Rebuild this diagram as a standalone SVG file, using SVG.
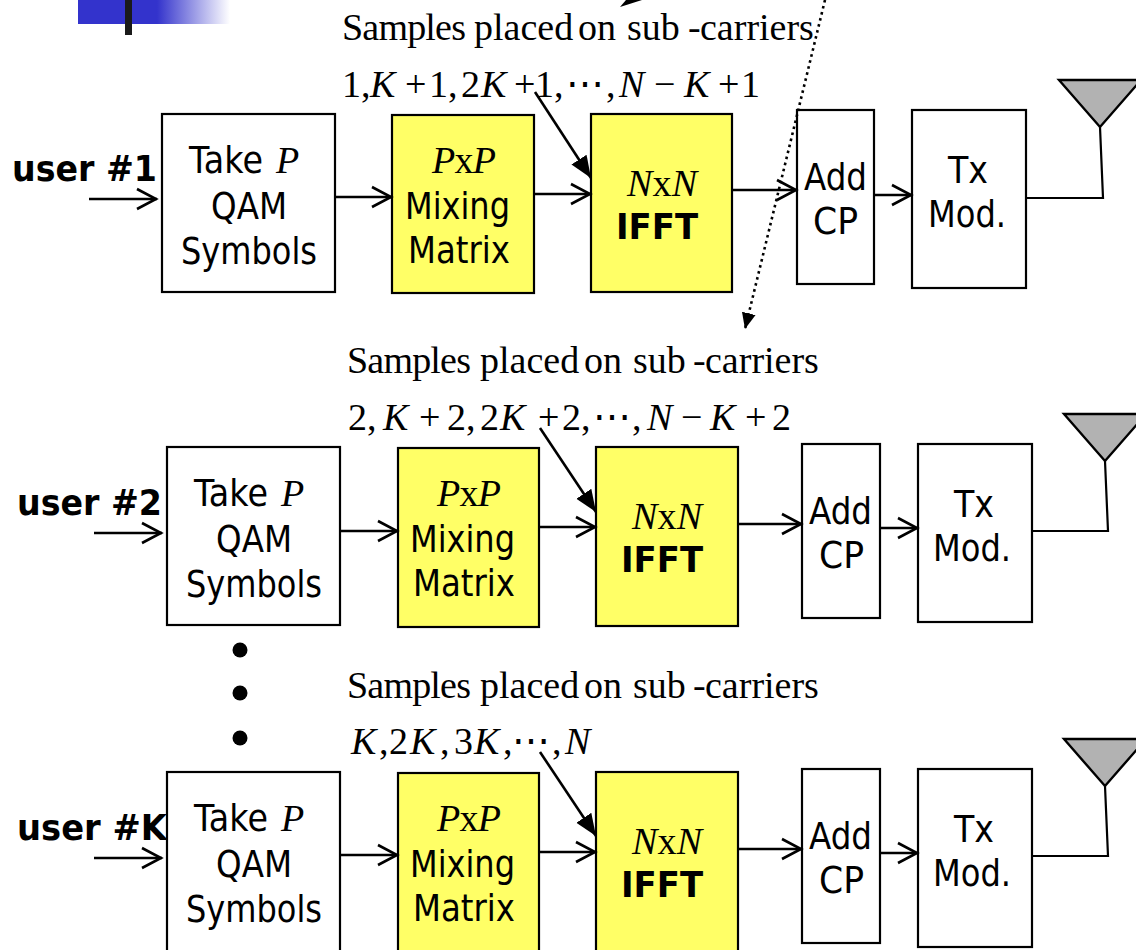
<svg xmlns="http://www.w3.org/2000/svg" width="1136" height="950" viewBox="0 0 1136 950">
<style>
.box{fill:#fff;stroke:#000;stroke-width:2.2}
.yel{fill:#ffff66;stroke:#000;stroke-width:2.2}
.s{font-family:"DejaVu Sans","Liberation Sans",sans-serif;font-size:38px;fill:#000}
.b{font-family:"DejaVu Sans","Liberation Sans",sans-serif;font-size:36px;font-weight:700;fill:#000}
.t{font-family:"Liberation Serif","DejaVu Serif",serif;font-size:38px;fill:#000}
.i{font-style:italic}
.ls{letter-spacing:-0.8px}
.a{fill:none;stroke:#000;stroke-width:2.6;marker-end:url(#open)}
.f{fill:none;stroke:#000;stroke-width:2.6;marker-end:url(#solid)}
.w{fill:none;stroke:#000;stroke-width:2.2}
.ant{fill:#b2b2b2;stroke:#000;stroke-width:2.4}
</style>
<defs>
<linearGradient id="fade" x1="0" x2="1" y1="0" y2="0"><stop offset="0.52" stop-color="#3333cc"/><stop offset="1" stop-color="#fff"/></linearGradient>
<marker id="open" markerUnits="userSpaceOnUse" markerWidth="26" markerHeight="26" refX="22" refY="13" orient="auto"><path d="M2,3 L21,13 L2,23" fill="none" stroke="#000" stroke-width="2.6"/></marker>
<marker id="solid" markerUnits="userSpaceOnUse" markerWidth="26" markerHeight="26" refX="22" refY="13" orient="auto"><path d="M0,4 L22,13 L0,22 Z" fill="#000"/></marker>
<marker id="dot" markerUnits="userSpaceOnUse" markerWidth="20" markerHeight="20" refX="16" refY="10" orient="auto"><path d="M0,3 L16,10 L0,17 Z" fill="#000"/></marker>
</defs>

<g id="banner"><rect x="78" y="0" width="152" height="24" fill="url(#fade)"/><rect x="125" y="0" width="7" height="35" fill="#1a1a1a"/></g>

<g id="row1-label"><text class="b" x="12" y="181" textLength="145" lengthAdjust="spacingAndGlyphs">user #1</text></g>
<g id="row1-take"><rect class="box" x="162" y="114" width="173" height="178"/><text class="s" x="189" y="173" textLength="74" lengthAdjust="spacingAndGlyphs">Take</text><text class="t i" x="276" y="173">P</text><text class="s" x="211" y="219" textLength="76" lengthAdjust="spacingAndGlyphs">QAM</text><text class="s" x="181" y="264" textLength="136" lengthAdjust="spacingAndGlyphs">Symbols</text></g>
<g id="row1-mix"><rect class="yel" x="392" y="115" width="142" height="178"/><text class="t" x="432" y="173" textLength="64"><tspan class="i">P</tspan>x<tspan class="i">P</tspan></text><text class="s" x="405" y="219" textLength="105" lengthAdjust="spacingAndGlyphs">Mixing</text><text class="s" x="408" y="263" textLength="102" lengthAdjust="spacingAndGlyphs">Matrix</text></g>
<g id="row1-ifft"><rect class="yel" x="591" y="114" width="141" height="178"/><text class="t" x="627" y="196" textLength="70"><tspan class="i">N</tspan>x<tspan class="i">N</tspan></text><text class="b" x="616" y="239" textLength="82" lengthAdjust="spacingAndGlyphs">IFFT</text></g>
<g id="row1-cp"><rect class="box" x="797" y="110" width="77" height="174"/><text class="s" x="804" y="190" textLength="63" lengthAdjust="spacingAndGlyphs">Add</text><text class="s" x="813" y="234" textLength="45" lengthAdjust="spacingAndGlyphs">CP</text></g>
<g id="row1-tx"><rect class="box" x="912" y="110" width="114" height="178"/><text class="s" x="948" y="183" textLength="40" lengthAdjust="spacingAndGlyphs">Tx</text><text class="s" x="928" y="227" textLength="78" lengthAdjust="spacingAndGlyphs">Mod.</text></g>
<g id="row1-antenna"><polygon class="ant" points="1059,80 1141,80 1100,127"/></g>
<g id="row1-note"><text class="t" y="40"><tspan x="342" class="ls">Samples</tspan> <tspan x="474">placed</tspan> <tspan x="578">on</tspan> <tspan x="627">sub</tspan> <tspan x="688">-</tspan> <tspan x="700">carriers</tspan></text>
<text class="t" y="97"><tspan x="342">1,</tspan> <tspan x="370" class="i">K</tspan> <tspan x="405">+</tspan> <tspan x="429">1,</tspan> <tspan x="461">2</tspan><tspan x="481" class="i">K</tspan> <tspan x="514">+</tspan> <tspan x="535">1,</tspan> <tspan x="566">⋯</tspan><tspan x="606">,</tspan> <tspan x="619" class="i">N</tspan> <tspan x="654">−</tspan> <tspan x="684" class="i">K</tspan> <tspan x="718">+</tspan> <tspan x="741">1</tspan></text></g>

<g id="row2-label"><text class="b" x="17" y="515" textLength="145" lengthAdjust="spacingAndGlyphs">user #2</text></g>
<g id="row2-take"><rect class="box" x="167" y="447" width="173" height="178"/><text class="s" x="194" y="506" textLength="74" lengthAdjust="spacingAndGlyphs">Take</text><text class="t i" x="281" y="506">P</text><text class="s" x="216" y="552" textLength="76" lengthAdjust="spacingAndGlyphs">QAM</text><text class="s" x="186" y="597" textLength="136" lengthAdjust="spacingAndGlyphs">Symbols</text></g>
<g id="row2-mix"><rect class="yel" x="398" y="448" width="141" height="179"/><text class="t" x="437" y="506" textLength="64"><tspan class="i">P</tspan>x<tspan class="i">P</tspan></text><text class="s" x="410" y="552" textLength="105" lengthAdjust="spacingAndGlyphs">Mixing</text><text class="s" x="413" y="596" textLength="102" lengthAdjust="spacingAndGlyphs">Matrix</text></g>
<g id="row2-ifft"><rect class="yel" x="596" y="447" width="142" height="179"/><text class="t" x="632" y="529" textLength="70"><tspan class="i">N</tspan>x<tspan class="i">N</tspan></text><text class="b" x="621" y="572" textLength="82" lengthAdjust="spacingAndGlyphs">IFFT</text></g>
<g id="row2-cp"><rect class="box" x="802" y="444" width="78" height="174"/><text class="s" x="809" y="524" textLength="63" lengthAdjust="spacingAndGlyphs">Add</text><text class="s" x="819" y="568" textLength="45" lengthAdjust="spacingAndGlyphs">CP</text></g>
<g id="row2-tx"><rect class="box" x="918" y="444" width="114" height="178"/><text class="s" x="954" y="517" textLength="40" lengthAdjust="spacingAndGlyphs">Tx</text><text class="s" x="933" y="561" textLength="78" lengthAdjust="spacingAndGlyphs">Mod.</text></g>
<g id="row2-antenna"><polygon class="ant" points="1064,414 1146,414 1105,461"/></g>
<g id="row2-note"><text class="t" y="373"><tspan x="347" class="ls">Samples</tspan> <tspan x="480">placed</tspan> <tspan x="584">on</tspan> <tspan x="633">sub</tspan> <tspan x="693">-</tspan> <tspan x="705">carriers</tspan></text>
<text class="t" y="430"><tspan x="348">2,</tspan> <tspan x="383" class="i">K</tspan> <tspan x="419">+</tspan> <tspan x="447">2,</tspan> <tspan x="480">2</tspan><tspan x="500" class="i">K</tspan> <tspan x="538">+</tspan> <tspan x="562">2,</tspan> <tspan x="593">⋯</tspan><tspan x="632">,</tspan> <tspan x="647" class="i">N</tspan> <tspan x="681">−</tspan> <tspan x="710" class="i">K</tspan> <tspan x="745">+</tspan> <tspan x="772">2</tspan></text></g>

<g id="row3-label"><text class="b" x="17" y="840" textLength="150" lengthAdjust="spacingAndGlyphs">user #K</text></g>
<g id="row3-take"><rect class="box" x="167" y="772" width="173" height="190"/><text class="s" x="194" y="831" textLength="74" lengthAdjust="spacingAndGlyphs">Take</text><text class="t i" x="281" y="831">P</text><text class="s" x="216" y="877" textLength="76" lengthAdjust="spacingAndGlyphs">QAM</text><text class="s" x="186" y="922" textLength="136" lengthAdjust="spacingAndGlyphs">Symbols</text></g>
<g id="row3-mix"><rect class="yel" x="398" y="773" width="141" height="190"/><text class="t" x="437" y="831" textLength="64"><tspan class="i">P</tspan>x<tspan class="i">P</tspan></text><text class="s" x="410" y="877" textLength="105" lengthAdjust="spacingAndGlyphs">Mixing</text><text class="s" x="413" y="921" textLength="102" lengthAdjust="spacingAndGlyphs">Matrix</text></g>
<g id="row3-ifft"><rect class="yel" x="596" y="772" width="142" height="190"/><text class="t" x="632" y="854" textLength="70"><tspan class="i">N</tspan>x<tspan class="i">N</tspan></text><text class="b" x="621" y="897" textLength="82" lengthAdjust="spacingAndGlyphs">IFFT</text></g>
<g id="row3-cp"><rect class="box" x="802" y="769" width="78" height="174"/><text class="s" x="809" y="849" textLength="63" lengthAdjust="spacingAndGlyphs">Add</text><text class="s" x="819" y="893" textLength="45" lengthAdjust="spacingAndGlyphs">CP</text></g>
<g id="row3-tx"><rect class="box" x="918" y="769" width="114" height="178"/><text class="s" x="954" y="842" textLength="40" lengthAdjust="spacingAndGlyphs">Tx</text><text class="s" x="933" y="886" textLength="78" lengthAdjust="spacingAndGlyphs">Mod.</text></g>
<g id="row3-antenna"><polygon class="ant" points="1064,739 1146,739 1105,786"/></g>
<g id="row3-note"><text class="t" y="698"><tspan x="347" class="ls">Samples</tspan> <tspan x="480">placed</tspan> <tspan x="584">on</tspan> <tspan x="633">sub</tspan> <tspan x="693">-</tspan> <tspan x="705">carriers</tspan></text>
<text class="t" y="754"><tspan x="351" class="i">K</tspan><tspan x="379">,</tspan><tspan x="389">2</tspan><tspan x="410" class="i">K</tspan><tspan x="440">,</tspan> <tspan x="454">3</tspan><tspan x="474" class="i">K</tspan><tspan x="503">,</tspan> <tspan x="512">⋯</tspan><tspan x="552">,</tspan> <tspan x="565" class="i">N</tspan></text></g>

<g id="ellipsis-dots" fill="#000"><circle cx="240" cy="650" r="7.5"/><circle cx="240" cy="693" r="7.5"/><circle cx="240" cy="738" r="7.5"/></g>

<g id="connectors">
<line class="a" x1="89" y1="199" x2="157" y2="199"/><line class="a" x1="335" y1="197" x2="392" y2="197"/><line class="a" x1="534" y1="194" x2="591" y2="194"/><line class="a" x1="732" y1="190" x2="797" y2="190"/><line class="a" x1="874" y1="195" x2="912" y2="195"/>
<path class="w" d="M1026,198 H1103 L1100,127"/><line class="f" x1="535" y1="92" x2="591" y2="178"/>
<line class="a" x1="94" y1="533" x2="162" y2="533"/><line class="a" x1="340" y1="531" x2="398" y2="531"/><line class="a" x1="539" y1="527" x2="596" y2="527"/><line class="a" x1="738" y1="524" x2="802" y2="524"/><line class="a" x1="880" y1="528" x2="918" y2="528"/>
<path class="w" d="M1032,531 H1108 L1105,461"/><line class="f" x1="540" y1="428" x2="596" y2="512"/>
<line class="a" x1="94" y1="858" x2="162" y2="858"/><line class="a" x1="340" y1="855" x2="398" y2="855"/><line class="a" x1="539" y1="852" x2="596" y2="852"/><line class="a" x1="738" y1="849" x2="802" y2="849"/><line class="a" x1="880" y1="853" x2="918" y2="853"/>
<path class="w" d="M1032,856 H1108 L1105,786"/><line class="f" x1="540" y1="752" x2="596" y2="836"/>
<line x1="825" y1="0" x2="745" y2="329" fill="none" stroke="#000" stroke-width="2.6" stroke-dasharray="2.6 3.6" marker-end="url(#dot)"/>
<polygon points="620,7 626,0 642,0" fill="#000"/>
</g>
</svg>
